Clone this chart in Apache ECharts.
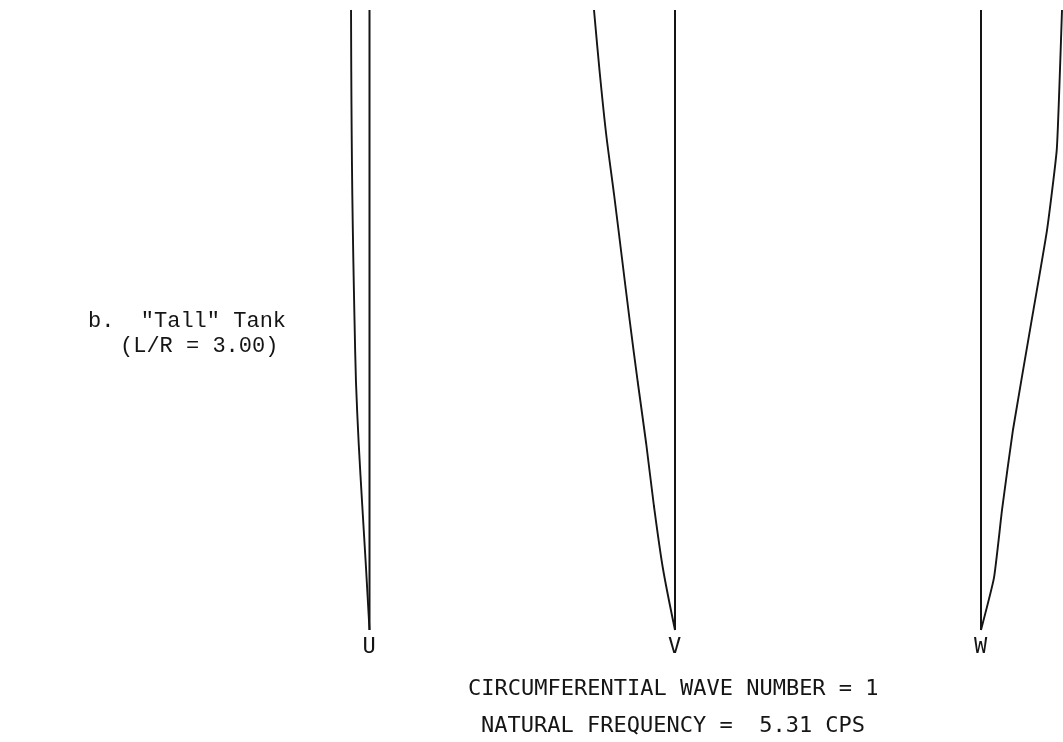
<!DOCTYPE html>
<html>
<head>
<meta charset="utf-8">
<script src="https://cdn.jsdelivr.net/npm/echarts@6/dist/echarts.min.js"></script>
<style>
html,body{margin:0;padding:0;background:#fff;}
#chart{width:1063px;height:742px;}
</style>
</head>
<body>
<div id="chart"></div>
<script>
// Height along tank (0 = bottom, 1 = top)
const heights = [1.0, 0.9, 0.8, 0.7, 0.6, 0.5, 0.4, 0.3, 0.2, 0.1, 0.0];
// Mode shape components (normalized)
const uValues = [-0.228, -0.225, -0.22, -0.212, -0.2, -0.185, -0.167, -0.133, -0.089, -0.043, 0];
const vValues = [-1.0, -0.93, -0.85, -0.75, -0.655, -0.56, -0.46, -0.355, -0.26, -0.15, 0];
const wHeights = [1.0, 0.903, 0.774, 0.645, 0.484, 0.323, 0.194, 0.084, 0.0];
const wValues = [1.0, 0.975, 0.935, 0.815, 0.605, 0.395, 0.26, 0.16, 0];
const panelLabels = ['U', 'V', 'W'];
const footer1 = 'CIRCUMFERENTIAL WAVE NUMBER = 1';
const footer2 = 'NATURAL FREQUENCY =  5.31 CPS';
const sideLine1 = 'b.  "Tall" Tank';
const sideLine2 = '(L/R = 3.00)';

const chart = echarts.init(document.getElementById('chart'));
const ink = '#151515';
const grids = [
  {left: 248, top: 10, width: 243, height: 620},
  {left: 553.5, top: 10, width: 243, height: 620},
  {left: 859.5, top: 10, width: 202.5, height: 620}
];
const xRanges = [[-1.5, 1.5], [-1.5, 1.5], [-1.5, 1.0]];
const curves = [
  heights.map((h, i) => [uValues[i], h]),
  heights.map((h, i) => [vValues[i], h]),
  wHeights.map((h, i) => [wValues[i], h])
];
const smoothing = [0.3, 0.3, 0.15];
const xAxes = [], yAxes = [], series = [];
grids.forEach((g, i) => {
  xAxes.push({gridIndex: i, type: 'value', min: xRanges[i][0], max: xRanges[i][1], show: false});
  yAxes.push({gridIndex: i, type: 'value', min: 0, max: 1, show: false});
  series.push({
    type: 'line', xAxisIndex: i, yAxisIndex: i, data: [[0, 0], [0, 1]],
    showSymbol: false, silent: true, lineStyle: {color: ink, width: 2}
  });
  series.push({
    type: 'line', xAxisIndex: i, yAxisIndex: i, data: curves[i],
    showSymbol: false, silent: true, smooth: smoothing[i],
    lineStyle: {color: ink, width: 1.9}
  });
});
const monoPlot = '"DejaVu Sans Mono", monospace';
const monoType = '"Liberation Mono", "Courier New", monospace';
const graphics = [];
const labelX = [369.5, 675, 981];
panelLabels.forEach((t, i) => {
  graphics.push({type: 'text', left: labelX[i] - 7, top: 636,
    style: {text: t, font: '22px ' + monoPlot, fill: ink}});
});
graphics.push({type: 'text', left: 468, top: 678, style: {text: footer1, font: '22px ' + monoPlot, fill: ink}});
graphics.push({type: 'text', left: 481, top: 715, style: {text: footer2, font: '22px ' + monoPlot, fill: ink}});
graphics.push({type: 'text', left: 88, top: 310, style: {text: sideLine1, font: '22px ' + monoType, fill: ink}});
graphics.push({type: 'text', left: 120, top: 335, style: {text: sideLine2, font: '22px ' + monoType, fill: ink}});

chart.setOption({
  backgroundColor: '#ffffff',
  animation: false,
  grid: grids,
  xAxis: xAxes,
  yAxis: yAxes,
  series: series,
  graphic: graphics
});
</script>
</body>
</html>
